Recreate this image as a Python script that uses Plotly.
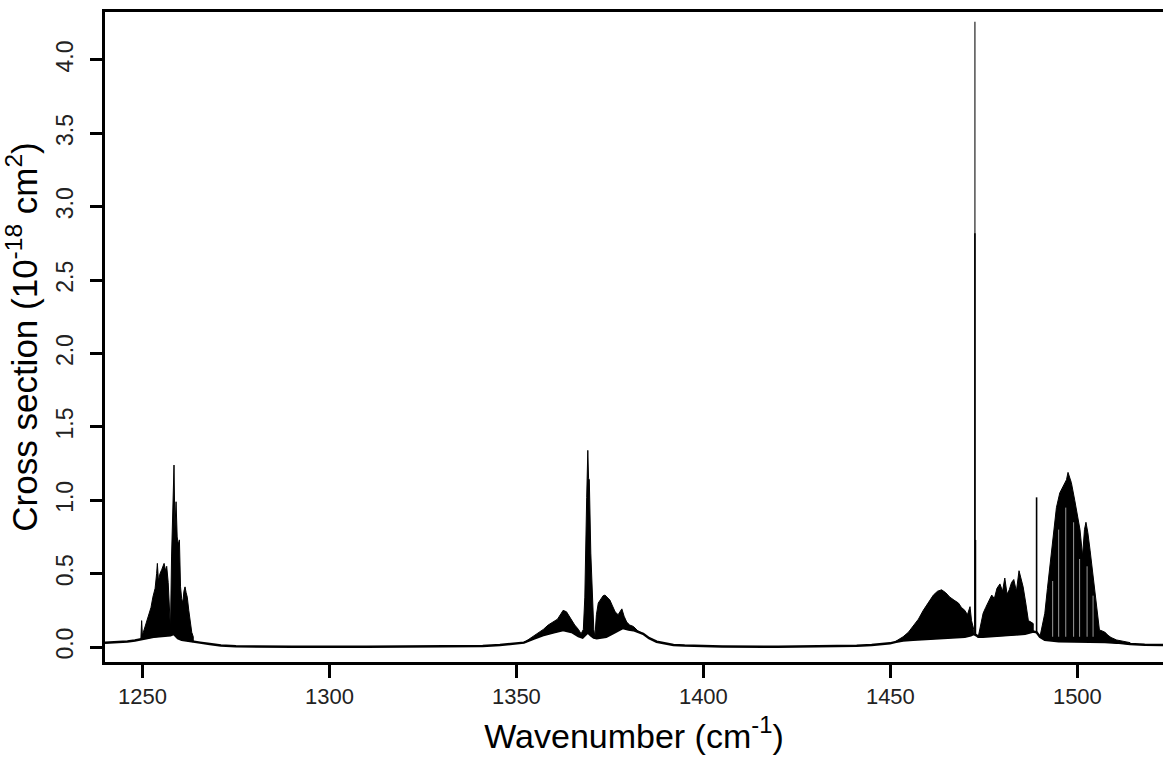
import plotly.graph_objects as go

# Continuum / baseline (wavenumber, cross section in 1e-18 cm^2)
cont_x = [1240, 1243, 1246, 1248, 1249.6, 1251, 1253, 1255, 1256.5, 1257.5, 1258.4, 1259.5,
          1260.5, 1261.5, 1262.5, 1263.6, 1265.4, 1268, 1271, 1275, 1280, 1290, 1310, 1330,
          1337, 1341, 1345.6, 1348, 1351, 1352, 1354.5, 1357, 1360, 1362.5, 1365, 1366.6,
          1367.7, 1368.4, 1369.1, 1369.9, 1370.7, 1371.5, 1372.5, 1374, 1375.5, 1377, 1378.5,
          1380, 1381.3, 1383.9, 1385.5, 1387.5, 1390, 1392, 1395, 1399, 1405, 1420, 1435,
          1441, 1445, 1448, 1449.9, 1451.5, 1453.4, 1456.1, 1460, 1465, 1469.9, 1471.5,
          1472.3, 1473.0, 1473.5, 1474.8, 1478, 1482, 1486, 1488.2, 1489.1, 1490.0, 1491.3,
          1495, 1500, 1505, 1507.4, 1510.5, 1514.1, 1518, 1522.9]
cont_y = [0.03, 0.032, 0.038, 0.045, 0.055, 0.06, 0.07, 0.075, 0.08, 0.08, 0.09, 0.06,
          0.05, 0.045, 0.04, 0.036, 0.03, 0.02, 0.01, 0.005, 0.003, 0.002, 0.002, 0.002,
          0.004, 0.007, 0.014, 0.02, 0.026, 0.03, 0.055, 0.08, 0.10, 0.115, 0.10, 0.075,
          0.065, 0.08, 0.10, 0.08, 0.065, 0.06, 0.065, 0.07, 0.09, 0.11, 0.13,
          0.12, 0.115, 0.09, 0.06, 0.036, 0.022, 0.014, 0.01, 0.007, 0.004, 0.002, 0.004,
          0.008, 0.014, 0.02, 0.025, 0.035, 0.045, 0.05, 0.055, 0.06, 0.07, 0.08,
          0.09, 0.08, 0.07, 0.07, 0.075, 0.08, 0.09, 0.105, 0.10, 0.07, 0.05,
          0.04, 0.04, 0.04, 0.035, 0.03, 0.02, 0.016, 0.014]

# Upper envelopes of the dense rovibrational bands
band1_x = [1249.6, 1249.8, 1250.0, 1250.6, 1251.15, 1251.8, 1252.3, 1252.8, 1253.4, 1253.8,
           1254.0, 1254.3, 1254.7, 1255.2, 1255.8, 1256.2, 1256.5, 1256.9, 1257.2, 1257.5,
           1257.8, 1258.1, 1258.45, 1258.7, 1259.0, 1259.3, 1259.6, 1259.9, 1260.2, 1260.5,
           1260.8, 1261.1, 1261.4, 1261.7, 1262.0, 1262.4, 1262.7, 1263.2, 1263.6]
band1_y = [0.06, 0.18, 0.08, 0.13, 0.17, 0.24, 0.27, 0.34, 0.40, 0.50,
           0.57, 0.45, 0.50, 0.53, 0.57, 0.52, 0.55, 0.44, 0.30, 0.12,
           0.62, 0.95, 1.24, 0.80, 0.99, 0.75, 0.70, 0.73, 0.41, 0.33,
           0.30, 0.38, 0.41, 0.37, 0.34, 0.25, 0.18, 0.10, 0.07]

band2_x = [1352.0, 1354.5, 1356.0, 1357.2, 1358.5, 1359.9, 1361.0, 1362.0, 1362.5, 1363.4,
           1364.1, 1364.8, 1365.6, 1366.6, 1367.3, 1367.9, 1368.3, 1368.8, 1369.1, 1369.3,
           1369.5, 1369.9, 1370.3, 1370.7, 1371.0, 1371.4, 1371.9, 1372.6, 1373.2, 1373.7,
           1374.3, 1375.0, 1375.7, 1376.4, 1377.2, 1377.8, 1378.2, 1378.8, 1379.5, 1380.3,
           1381.3, 1382.5, 1383.9]
band2_y = [0.03, 0.075, 0.10, 0.12, 0.15, 0.17, 0.19, 0.23, 0.25, 0.24,
           0.21, 0.18, 0.15, 0.12, 0.09, 0.12, 0.34, 1.02, 1.34, 1.15,
           1.14, 0.64, 0.30, 0.12, 0.07, 0.22, 0.30, 0.33, 0.35, 0.354,
           0.34, 0.32, 0.28, 0.24, 0.22, 0.25, 0.26, 0.21, 0.17, 0.15,
           0.14, 0.11, 0.09]

band3a_x = [1451.5, 1453.4, 1454.8, 1456.1, 1457.5, 1458.8, 1460.2, 1461.5, 1462.6, 1463.7,
            1464.8, 1465.9, 1467.0, 1468.2, 1469.0, 1469.9, 1470.6, 1471.3, 1471.7, 1472.3]
band3a_y = [0.04, 0.07, 0.10, 0.14, 0.19, 0.25, 0.30, 0.354, 0.38, 0.39,
            0.37, 0.34, 0.32, 0.30, 0.27, 0.25, 0.22, 0.275, 0.18, 0.12]

band3b_x = [1473.5, 1474.2, 1474.8, 1475.5, 1476.3, 1477.1, 1477.8, 1478.5, 1479.3, 1480.0,
            1480.6, 1481.2, 1481.8, 1482.4, 1483.0, 1483.7, 1484.4, 1485.0, 1485.5, 1486.2,
            1486.9, 1487.6, 1488.2]
band3b_y = [0.07, 0.15, 0.23, 0.27, 0.31, 0.354, 0.33, 0.40, 0.43, 0.38,
            0.47, 0.36, 0.39, 0.44, 0.46, 0.38, 0.52, 0.45, 0.41, 0.30,
            0.18, 0.17, 0.16]

band3c_x = [1490.0, 1490.6, 1491.3, 1492.0, 1492.8, 1493.6, 1494.4, 1495.3, 1496.2, 1497.1,
            1497.5, 1498.4, 1499.3, 1500.0, 1500.7, 1501.4, 1501.9, 1502.3, 1502.8, 1503.4,
            1504.0, 1504.7, 1505.3, 1505.9, 1506.6, 1507.4, 1508.2, 1509.0, 1510.5, 1514.1]
band3c_y = [0.07, 0.14, 0.23, 0.40, 0.60, 0.80, 0.95, 1.05, 1.10, 1.14,
            1.19, 1.12, 1.00, 0.90, 0.80, 0.62, 0.80, 0.85, 0.78, 0.66,
            0.52, 0.39, 0.25, 0.116, 0.11, 0.10, 0.08, 0.065, 0.048, 0.03]

# Resolved gaps between individual lines inside the 1490-1506 band (white slits)
gap_x = [1493.4, 1495.0, 1496.9, 1499.0, 1500.6, 1502.6, 1504.2]
gap_top = [0.45, 0.80, 0.95, 0.85, 0.60, 0.55, 0.35]
gap_base = [0.07, 0.07, 0.07, 0.07, 0.07, 0.07, 0.07]

# Isolated narrow lines
spike_x = [1472.6, 1472.6, 1472.75, 1489.1]
spike_top = [4.26, 2.82, 0.73, 1.02]
spike_base = [0.09, 0.09, 0.08, 0.10]
spike_color = ["#5a5a5a", "#000000", "#000000", "#000000"]

x_ticks = [1250, 1300, 1350, 1400, 1450, 1500]
y_ticks = [0.0, 0.5, 1.0, 1.5, 2.0, 2.5, 3.0, 3.5, 4.0]
y_ticktext = ["0.0", "0.5", "1.0", "1.5", "2.0", "2.5", "3.0", "3.5", "4.0"]

FONT = "Liberation Sans, Arial, sans-serif"

fig = go.Figure()

fig.add_trace(go.Scatter(x=cont_x, y=cont_y, mode="lines",
                         line=dict(color="black", width=2.5), hoverinfo="skip"))


def band_polygon(bx, by):
    lo, hi = min(bx), max(bx)
    lx = [x for x in cont_x if lo <= x <= hi]
    ly = [y for x, y in zip(cont_x, cont_y) if lo <= x <= hi]
    return bx + lx[::-1], by + ly[::-1]


for bx, by in [(band1_x, band1_y), (band2_x, band2_y), (band3a_x, band3a_y),
               (band3b_x, band3b_y), (band3c_x, band3c_y)]:
    px, py = band_polygon(bx, by)
    fig.add_trace(go.Scatter(x=px, y=py, mode="lines", fill="toself", fillcolor="black",
                             line=dict(color="black", width=1), hoverinfo="skip"))

gx, gy = [], []
for x0, t, b in zip(gap_x, gap_top, gap_base):
    gx += [x0, x0, None]
    gy += [b, t, None]
fig.add_trace(go.Scatter(x=gx, y=gy, mode="lines",
                         line=dict(color="rgba(255,255,255,0.6)", width=1), hoverinfo="skip"))

for sx, st, sb, sc in zip(spike_x, spike_top, spike_base, spike_color):
    fig.add_trace(go.Scatter(x=[sx, sx], y=[sb, st], mode="lines",
                             line=dict(color=sc, width=1.6), hoverinfo="skip"))

fig.update_layout(
    width=1163, height=757,
    margin=dict(l=105, r=0, t=12, b=95),
    paper_bgcolor="white", plot_bgcolor="white",
    showlegend=False,
    font=dict(family=FONT, color="black"),
    xaxis=dict(
        range=[1240, 1522.9], tickvals=x_ticks, ticks="outside", ticklen=13,
        tickwidth=2.5, tickcolor="black", showline=True, linewidth=3,
        linecolor="black", mirror=True, showgrid=False, zeroline=False,
        tickfont=dict(size=22, family=FONT, color="#222"),
        title=dict(text="Wavenumber (cm<sup>-1</sup>)", font=dict(size=34, family=FONT),
                   standoff=16),
    ),
    yaxis=dict(
        range=[-0.102, 4.327], tickvals=y_ticks, ticktext=y_ticktext, ticks="outside",
        ticklen=12, tickwidth=2.5, tickcolor="black", showline=True, linewidth=3,
        linecolor="black", mirror=False, showgrid=False, zeroline=False,
        tickangle=-90, tickfont=dict(size=23, family=FONT, color="#222"),
        ticklabelstandoff=8,
        title=dict(text="Cross section (10<sup>-18</sup> cm<sup>2</sup>)",
                   font=dict(size=35, family=FONT), standoff=10),
    ),
)

fig.write_html("out.html", config={"displayModeBar": False},
               post_script="document.body.style.margin='0';")
